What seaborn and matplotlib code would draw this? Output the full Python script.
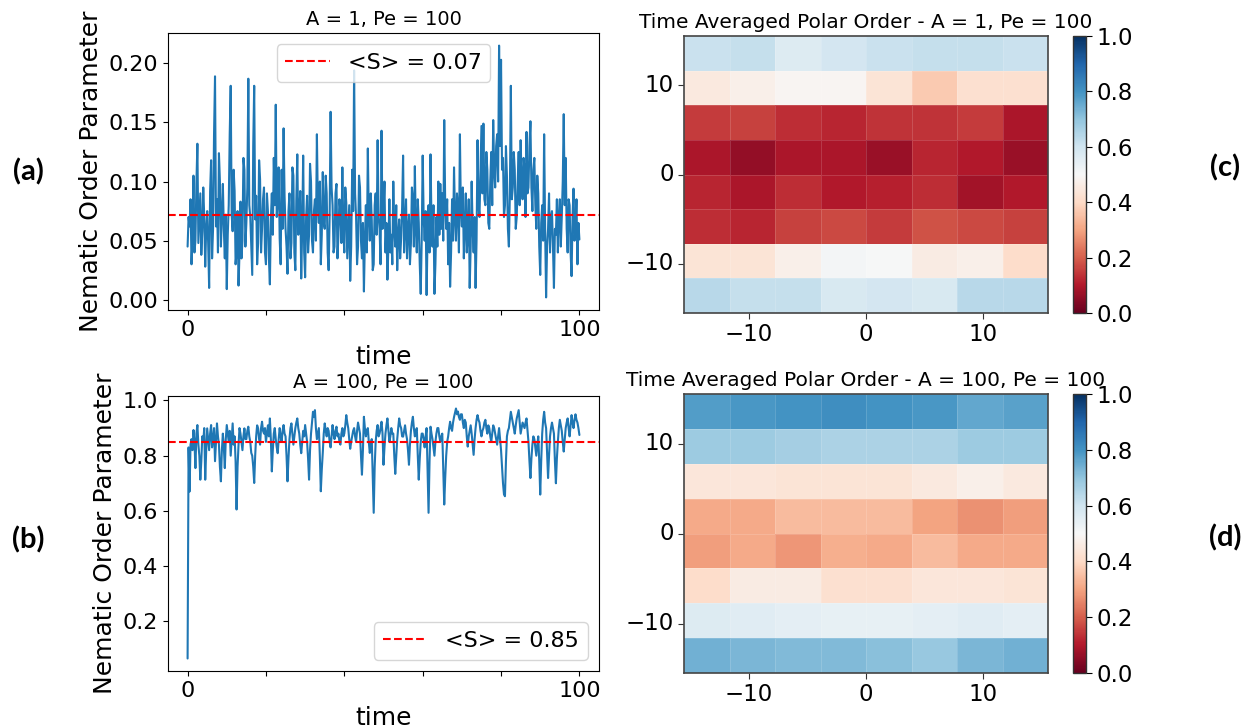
import numpy as np
import matplotlib
matplotlib.use("Agg")
import matplotlib.pyplot as plt
import seaborn as sns

W, H = 1249, 728
TIME_STEP = 0.25

# nematic order parameter, A = 1, Pe = 100 (sampled every 0.25 time units)
order_a = [
    0.045, 0.070, 0.062, 0.085, 0.030, 0.052, 0.105, 0.040, 0.050, 0.098,
    0.132, 0.048, 0.068, 0.090, 0.038, 0.058, 0.095, 0.070, 0.028, 0.060,
    0.075, 0.048, 0.010, 0.092, 0.118, 0.035, 0.060, 0.140, 0.189, 0.062,
    0.085, 0.040, 0.124, 0.100, 0.045, 0.070, 0.098, 0.060, 0.035, 0.072,
    0.009, 0.055, 0.080, 0.140, 0.181, 0.072, 0.058, 0.110, 0.092, 0.030,
    0.040, 0.075, 0.012, 0.040, 0.083, 0.035, 0.050, 0.120, 0.110, 0.045,
    0.065, 0.095, 0.187, 0.080, 0.070, 0.045, 0.021, 0.130, 0.181, 0.068,
    0.088, 0.030, 0.048, 0.118, 0.102, 0.040, 0.060, 0.085, 0.095, 0.040,
    0.030, 0.090, 0.075, 0.035, 0.013, 0.068, 0.090, 0.055, 0.120, 0.080,
    0.165, 0.070, 0.085, 0.112, 0.052, 0.030, 0.110, 0.060, 0.145, 0.088,
    0.060, 0.045, 0.022, 0.075, 0.090, 0.035, 0.048, 0.112, 0.105, 0.040,
    0.025, 0.085, 0.123, 0.055, 0.070, 0.092, 0.018, 0.060, 0.122, 0.040,
    0.019, 0.070, 0.088, 0.040, 0.055, 0.115, 0.100, 0.050, 0.040, 0.075,
    0.085, 0.050, 0.140, 0.080, 0.065, 0.100, 0.030, 0.055, 0.108, 0.065,
    0.060, 0.105, 0.090, 0.040, 0.025, 0.070, 0.159, 0.095, 0.080, 0.040,
    0.045, 0.090, 0.098, 0.035, 0.055, 0.085, 0.075, 0.048, 0.112, 0.058,
    0.040, 0.095, 0.082, 0.035, 0.058, 0.080, 0.016, 0.045, 0.110, 0.075,
    0.194, 0.090, 0.070, 0.030, 0.045, 0.105, 0.095, 0.050, 0.035, 0.065,
    0.007, 0.050, 0.080, 0.040, 0.128, 0.070, 0.050, 0.090, 0.068, 0.025,
    0.030, 0.080, 0.090, 0.055, 0.135, 0.070, 0.060, 0.030, 0.143, 0.060,
    0.075, 0.100, 0.040, 0.065, 0.017, 0.045, 0.085, 0.040, 0.055, 0.030,
    0.100, 0.060, 0.045, 0.080, 0.025, 0.055, 0.068, 0.035, 0.052, 0.078,
    0.122, 0.040, 0.060, 0.085, 0.035, 0.060, 0.072, 0.030, 0.048, 0.095,
    0.085, 0.045, 0.113, 0.060, 0.040, 0.085, 0.065, 0.030, 0.005, 0.050,
    0.122, 0.070, 0.050, 0.075, 0.004, 0.055, 0.080, 0.040, 0.123, 0.065,
    0.045, 0.080, 0.005, 0.030, 0.070, 0.045, 0.100, 0.055, 0.098, 0.060,
    0.090, 0.050, 0.152, 0.080, 0.060, 0.085, 0.030, 0.065, 0.011, 0.040,
    0.085, 0.050, 0.112, 0.070, 0.050, 0.090, 0.078, 0.040, 0.140, 0.075,
    0.062, 0.095, 0.035, 0.060, 0.090, 0.040, 0.055, 0.085, 0.010, 0.045,
    0.100, 0.060, 0.040, 0.070, 0.010, 0.050, 0.135, 0.080, 0.070, 0.110,
    0.147, 0.090, 0.149, 0.085, 0.080, 0.125, 0.110, 0.065, 0.060, 0.100,
    0.125, 0.080, 0.152, 0.110, 0.095, 0.130, 0.140, 0.100, 0.215, 0.130,
    0.203, 0.110, 0.120, 0.070, 0.080, 0.130, 0.105, 0.060, 0.045, 0.090,
    0.181, 0.085, 0.095, 0.125, 0.110, 0.060, 0.070, 0.100, 0.125, 0.080,
    0.135, 0.100, 0.085, 0.120, 0.110, 0.070, 0.142, 0.090, 0.095, 0.130,
    0.151, 0.095, 0.075, 0.110, 0.120, 0.080, 0.060, 0.105, 0.090, 0.045,
    0.021, 0.065, 0.080, 0.050, 0.140, 0.060, 0.002, 0.045, 0.060, 0.090,
    0.040, 0.070, 0.075, 0.045, 0.010, 0.060, 0.055, 0.085, 0.040, 0.070,
    0.085, 0.045, 0.070, 0.100, 0.157, 0.080, 0.120, 0.060, 0.040, 0.085,
    0.080, 0.040, 0.020, 0.070, 0.094, 0.050, 0.060, 0.085, 0.030, 0.065,
    0.051,
]

# nematic order parameter, A = 100, Pe = 100
order_b = [
    0.065, 0.830, 0.670, 0.840, 0.860, 0.820, 0.893, 0.850, 0.755, 0.880,
    0.911, 0.840, 0.800, 0.713, 0.780, 0.870, 0.850, 0.900, 0.713, 0.820,
    0.899, 0.860, 0.820, 0.880, 0.911, 0.830, 0.860, 0.900, 0.780, 0.850,
    0.917, 0.870, 0.840, 0.760, 0.707, 0.820, 0.880, 0.830, 0.755, 0.860,
    0.911, 0.880, 0.850, 0.890, 0.800, 0.860, 0.917, 0.840, 0.870, 0.780,
    0.605, 0.760, 0.839, 0.900, 0.880, 0.850, 0.820, 0.870, 0.899, 0.860,
    0.860, 0.890, 0.905, 0.870, 0.850, 0.810, 0.800, 0.760, 0.701, 0.800,
    0.870, 0.910, 0.899, 0.860, 0.840, 0.900, 0.923, 0.890, 0.880, 0.900,
    0.850, 0.880, 0.910, 0.870, 0.935, 0.860, 0.743, 0.820, 0.880, 0.900,
    0.860, 0.830, 0.809, 0.860, 0.900, 0.870, 0.850, 0.890, 0.911, 0.880,
    0.870, 0.800, 0.707, 0.790, 0.860, 0.900, 0.917, 0.880, 0.840, 0.870,
    0.900, 0.920, 0.935, 0.900, 0.880, 0.840, 0.809, 0.850, 0.890, 0.870,
    0.911, 0.880, 0.850, 0.790, 0.713, 0.820, 0.880, 0.920, 0.959, 0.940,
    0.965, 0.900, 0.860, 0.880, 0.900, 0.800, 0.671, 0.750, 0.810, 0.880,
    0.917, 0.890, 0.870, 0.900, 0.890, 0.850, 0.830, 0.870, 0.911, 0.880,
    0.860, 0.890, 0.905, 0.870, 0.880, 0.850, 0.840, 0.880, 0.900, 0.870,
    0.880, 0.910, 0.947, 0.920, 0.900, 0.860, 0.825, 0.850, 0.870, 0.890,
    0.900, 0.870, 0.850, 0.890, 0.920, 0.900, 0.880, 0.800, 0.731, 0.820,
    0.941, 0.900, 0.870, 0.890, 0.900, 0.850, 0.810, 0.840, 0.860, 0.720,
    0.593, 0.760, 0.850, 0.890, 0.911, 0.870, 0.880, 0.900, 0.923, 0.880,
    0.767, 0.830, 0.880, 0.910, 0.935, 0.890, 0.850, 0.870, 0.900, 0.880,
    0.880, 0.800, 0.734, 0.800, 0.860, 0.900, 0.935, 0.910, 0.900, 0.870,
    0.869, 0.890, 0.910, 0.880, 0.860, 0.820, 0.767, 0.840, 0.890, 0.920,
    0.941, 0.900, 0.870, 0.890, 0.900, 0.800, 0.713, 0.790, 0.850, 0.880,
    0.880, 0.860, 0.830, 0.870, 0.900, 0.750, 0.593, 0.780, 0.905, 0.880,
    0.860, 0.830, 0.800, 0.850, 0.880, 0.900, 0.900, 0.870, 0.850, 0.870,
    0.880, 0.750, 0.623, 0.720, 0.800, 0.850, 0.870, 0.900, 0.923, 0.900,
    0.890, 0.920, 0.940, 0.955, 0.971, 0.950, 0.960, 0.940, 0.930, 0.950,
    0.950, 0.920, 0.900, 0.930, 0.920, 0.870, 0.833, 0.870, 0.890, 0.910,
    0.880, 0.840, 0.803, 0.860, 0.900, 0.930, 0.947, 0.930, 0.920, 0.890,
    0.870, 0.890, 0.900, 0.920, 0.930, 0.900, 0.880, 0.910, 0.900, 0.870,
    0.850, 0.880, 0.910, 0.900, 0.880, 0.860, 0.840, 0.870, 0.900, 0.860,
    0.820, 0.760, 0.700, 0.660, 0.653, 0.780, 0.870, 0.890, 0.900, 0.930,
    0.959, 0.940, 0.920, 0.900, 0.880, 0.910, 0.935, 0.950, 0.965, 0.920,
    0.880, 0.900, 0.920, 0.910, 0.900, 0.920, 0.935, 0.890, 0.850, 0.780,
    0.719, 0.790, 0.840, 0.870, 0.860, 0.830, 0.800, 0.840, 0.870, 0.780,
    0.659, 0.780, 0.880, 0.930, 0.959, 0.920, 0.900, 0.810, 0.719, 0.800,
    0.870, 0.900, 0.920, 0.900, 0.880, 0.780, 0.700, 0.790, 0.850, 0.900,
    0.930, 0.910, 0.890, 0.850, 0.815, 0.860, 0.900, 0.920, 0.935, 0.900,
    0.870, 0.910, 0.947, 0.920, 0.900, 0.930, 0.950, 0.930, 0.920, 0.900,
    0.875,
]

mean_a, label_a = 0.072, "<S> = 0.07"
mean_b, label_b = 0.851, "<S> = 0.85"

# time averaged polar order maps, rows from top (y = +15.5) to bottom
polar_c = [
    [0.61, 0.62, 0.57, 0.59, 0.61, 0.62, 0.62, 0.61],
    [0.45, 0.47, 0.49, 0.49, 0.43, 0.37, 0.42, 0.42],
    [0.15, 0.16, 0.13, 0.12, 0.14, 0.14, 0.15, 0.09],
    [0.09, 0.06, 0.09, 0.09, 0.07, 0.12, 0.10, 0.07],
    [0.12, 0.09, 0.13, 0.10, 0.11, 0.13, 0.08, 0.10],
    [0.13, 0.12, 0.16, 0.17, 0.15, 0.18, 0.17, 0.16],
    [0.43, 0.43, 0.47, 0.51, 0.50, 0.46, 0.47, 0.41],
    [0.64, 0.62, 0.62, 0.58, 0.59, 0.58, 0.64, 0.64],
]
polar_d = [
    [0.78, 0.79, 0.80, 0.81, 0.80, 0.79, 0.76, 0.77],
    [0.68, 0.68, 0.67, 0.66, 0.66, 0.66, 0.68, 0.68],
    [0.44, 0.44, 0.43, 0.43, 0.43, 0.45, 0.47, 0.45],
    [0.31, 0.31, 0.34, 0.34, 0.34, 0.30, 0.27, 0.29],
    [0.29, 0.31, 0.28, 0.32, 0.31, 0.34, 0.31, 0.31],
    [0.41, 0.46, 0.46, 0.42, 0.42, 0.44, 0.44, 0.43],
    [0.57, 0.56, 0.55, 0.54, 0.54, 0.55, 0.56, 0.55],
    [0.74, 0.73, 0.72, 0.72, 0.71, 0.69, 0.73, 0.74],
]
HALF = 15.5
map_ticks = [-10, 0, 10]
cbar_ticks = [0.0, 0.2, 0.4, 0.6, 0.8, 1.0]

sns.set_style("ticks")
plt.rcParams["font.family"] = ["DejaVu Sans"]
plt.rcParams.update({"text.color": "black", "axes.labelcolor": "black",
                     "xtick.color": "black", "ytick.color": "black"})

fig = plt.figure(figsize=(W / 100, H / 100), dpi=100)


def px(left, top, width, height):
    return [left / W, 1 - (top + height) / H, width / W, height / H]


def order_panel(ax, values, mean, label, title, loc):
    t = np.arange(len(values)) * TIME_STEP
    sns.lineplot(x=t, y=values, ax=ax, color="#1f77b4", linewidth=1.5)
    ax.axhline(mean, color="red", linestyle="--", linewidth=1.5, label=label)
    ax.legend(loc=loc, fontsize=16)
    ax.set_title(title, fontsize=14)
    ax.set_xlabel("time", fontsize=18)
    ax.set_ylabel("Nematic Order Parameter", fontsize=18)
    ax.set_xticks([0, 20, 40, 60, 80, 100])
    ax.set_xticklabels(["0", "", "", "", "", "100"])
    ax.tick_params(labelsize=16)
    for s in ax.spines.values():
        s.set_color("black")


def polar_panel(ax, cax, grid, title):
    n = len(grid)
    sns.heatmap(np.array(grid), ax=ax, cbar_ax=cax, cmap="RdBu", vmin=0, vmax=1,
                linewidths=0.4, linecolor=(1, 1, 1, 0.15))
    pos = [(v + HALF) / (2 * HALF) * n for v in map_ticks]
    ax.set_xticks(pos)
    ax.set_xticklabels(["\u221210", "0", "10"], rotation=0)
    ax.set_yticks([n - p for p in pos])
    ax.set_yticklabels(["\u221210", "0", "10"], rotation=0)
    ax.tick_params(labelsize=16.5, length=4, color="#333333")
    for s in ax.spines.values():
        s.set_visible(True)
        s.set_color("#444444")
        s.set_linewidth(1.2)
    ax.set_title(title, fontsize=14.5)
    cb = ax.collections[0].colorbar
    cb.set_ticks(cbar_ticks)
    cb.set_ticklabels([f"{v:.1f}" for v in cbar_ticks])
    cb.outline.set_linewidth(1.0)
    cb.outline.set_edgecolor("#333333")
    cax.tick_params(labelsize=16.5, length=4)


ax_a = fig.add_axes(px(168, 33, 431, 277))
ax_b = fig.add_axes(px(168, 396, 431, 275))
ax_c = fig.add_axes(px(684, 36, 364, 277))
cax_c = fig.add_axes(px(1073, 36, 13, 277))
ax_d = fig.add_axes(px(684, 394, 364, 279))
cax_d = fig.add_axes(px(1073, 394, 13, 279))

order_panel(ax_a, order_a, mean_a, label_a, "A = 1, Pe = 100", "upper center")
order_panel(ax_b, order_b, mean_b, label_b, "A = 100, Pe = 100", "lower right")
polar_panel(ax_c, cax_c, polar_c, "Time Averaged Polar Order - A = 1, Pe = 100")
polar_panel(ax_d, cax_d, polar_d, "Time Averaged Polar Order - A = 100, Pe = 100")

for text, x, y in [("(a)", 28, 172), ("(b)", 28, 540), ("(c)", 1225, 168), ("(d)", 1225, 538)]:
    fig.text(x / W, 1 - y / H, text, ha="center", va="center", color="black",
             fontsize=21, fontweight="bold", family=["Lato", "DejaVu Sans"])

fig.savefig("out.png", dpi=100)
